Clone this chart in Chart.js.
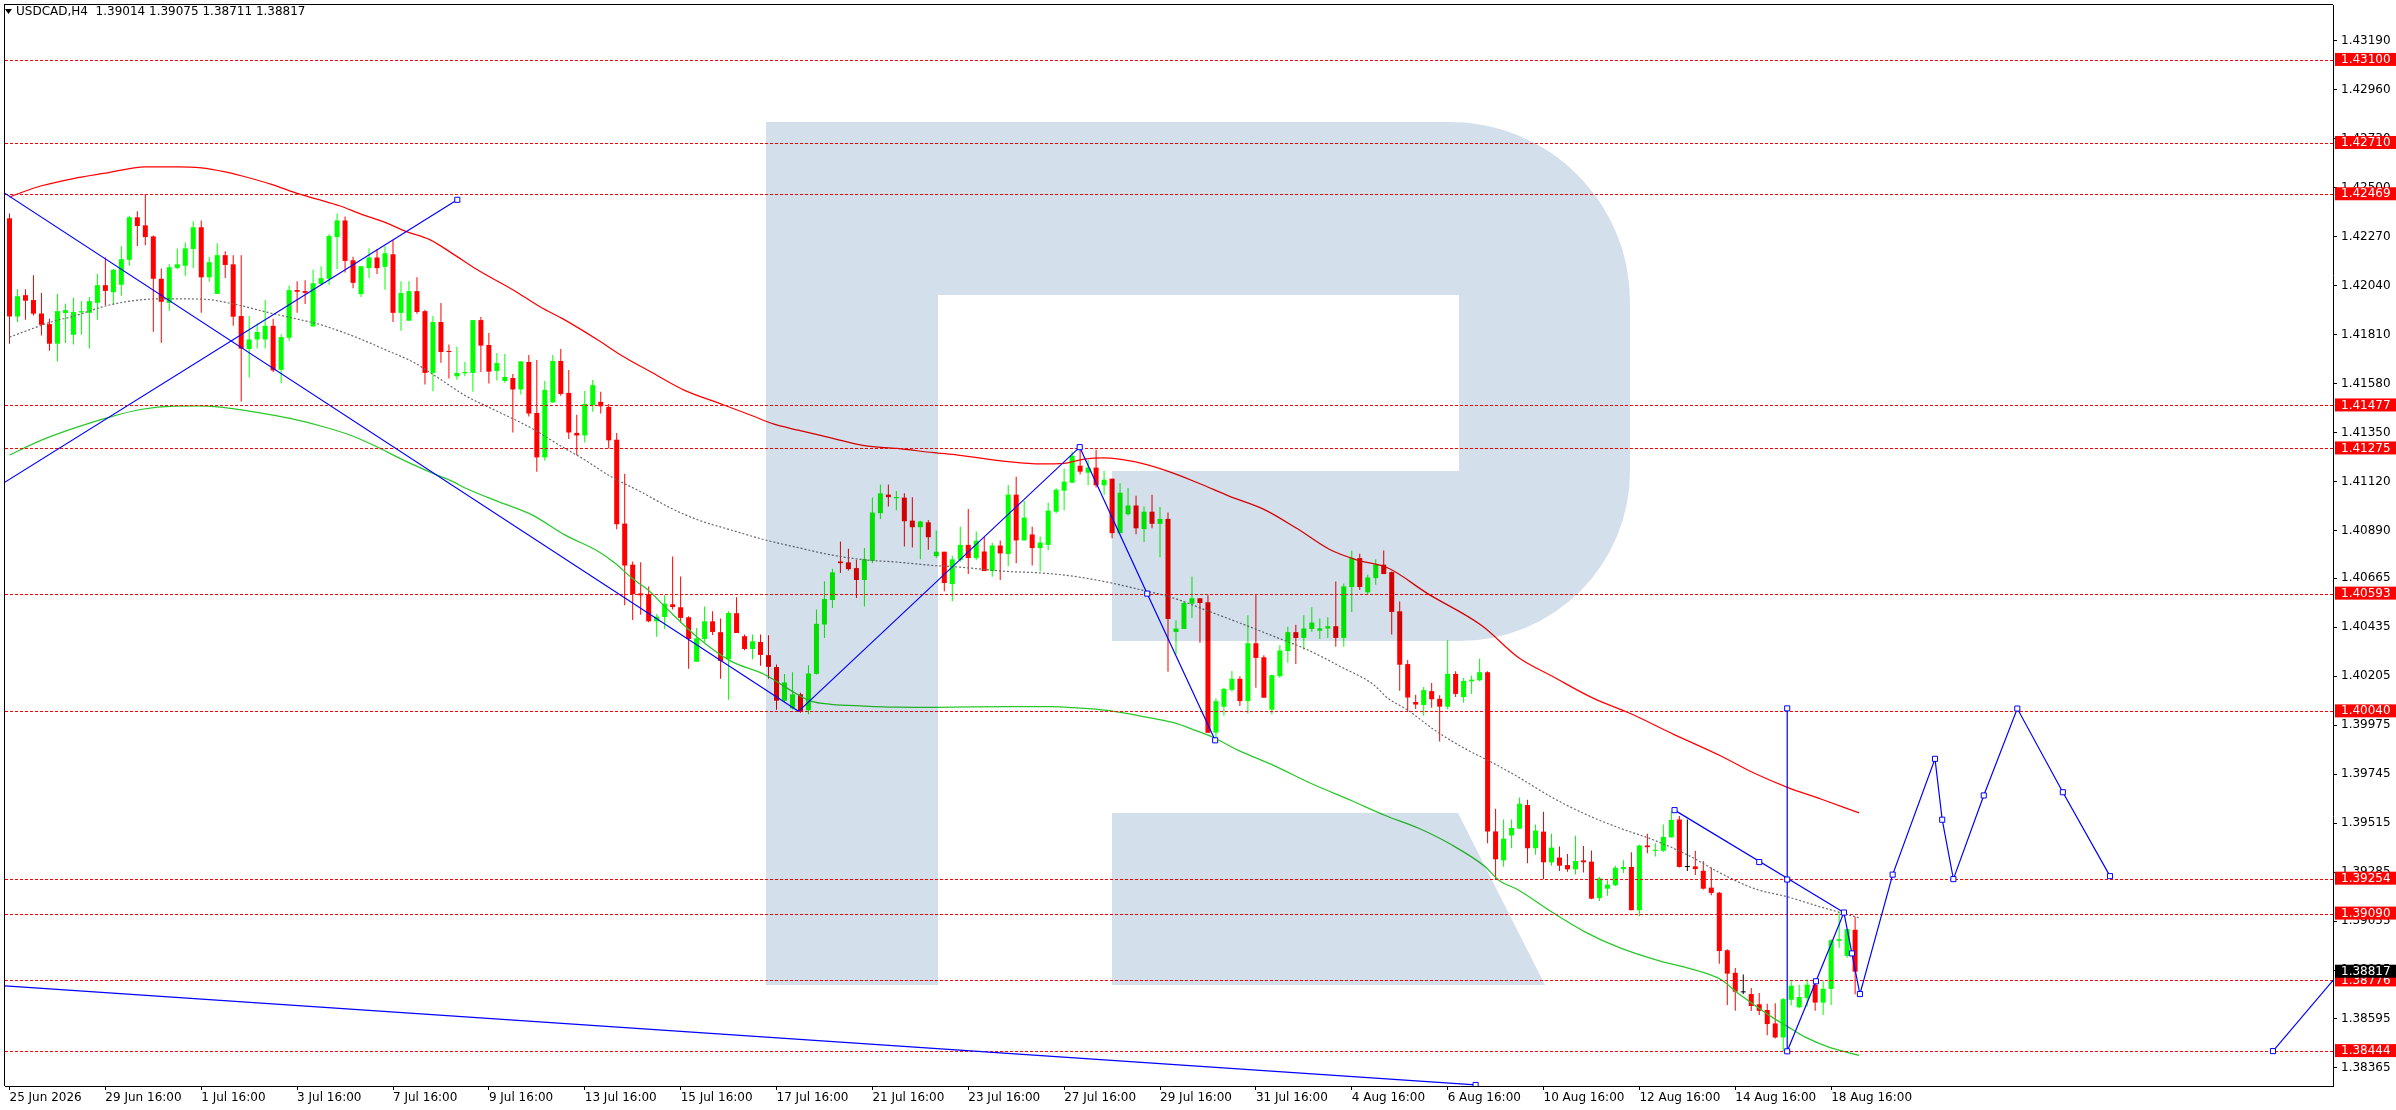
<!DOCTYPE html>
<html><head><meta charset="utf-8">
<script src="https://cdn.jsdelivr.net/npm/chart.js@4.4.1/dist/chart.umd.min.js"></script>
<style>html,body{margin:0;padding:0;background:#fff;overflow:hidden}canvas{display:block}</style>
</head><body>
<canvas id="c" width="2396" height="1110" style="width:2396px;height:1110px"></canvas>
<script>
const symbolTitle = 'USDCAD,H4  1.39014 1.39075 1.38711 1.38817';

const open = [
1.42356,1.41895,1.41995,1.41972,1.41909,1.41859,1.41767,1.41911,1.41809,1.41914,
1.41912,1.41959,1.42042,1.42009,1.42044,1.42161,1.42361,1.42323,1.42271,1.42072,
1.41959,1.42123,1.42133,1.42212,1.42314,1.42079,1.42001,1.42183,1.42140,1.41897,
1.41742,1.41787,1.41787,1.41851,1.41644,1.41795,1.42019,1.42014,1.41848,1.42048,
1.42072,1.42268,1.42346,1.42159,1.42000,1.42122,1.42172,1.42128,1.42187,1.41912,
1.41875,1.42014,1.41920,1.41630,1.41869,1.41733,1.41614,1.41628,1.41630,1.41878,
1.41761,1.41639,1.41592,1.41606,1.41552,1.41681,1.41442,1.41233,1.41491,1.41686,
1.41536,1.41348,1.41336,1.41478,1.41494,1.41470,1.41316,1.40922,1.40729,1.40594,
1.40591,1.40463,1.40483,1.40543,1.40529,1.40482,1.40273,1.40380,1.40463,1.40412,
1.40285,1.40501,1.40393,1.40333,1.40366,1.40304,1.40248,1.40090,1.40054,1.40120,
1.40045,1.40216,1.40448,1.40563,1.40744,1.40740,1.40713,1.40657,1.40747,1.40971,
1.41058,1.41041,1.41044,1.40936,1.40905,1.40928,1.40769,1.40790,1.40638,1.40752,
1.40822,1.40760,1.40791,1.40699,1.40819,1.40779,1.41058,1.40843,1.40871,1.40807,
1.40822,1.40978,1.41077,1.41114,1.41194,1.41161,1.41185,1.41102,1.41133,1.40877,
1.40966,1.41007,1.40896,1.40978,1.40921,1.40944,1.40413,1.40427,1.40546,1.40571,
1.40552,1.39940,1.40062,1.40141,1.40193,1.40088,1.40360,1.40294,1.40048,1.40205,
1.40323,1.40412,1.40385,1.40427,1.40419,1.40429,1.40440,1.40385,1.40624,1.40760,
1.40599,1.40666,1.40729,1.40694,1.40510,1.40262,1.40084,1.40070,1.40135,1.40099,
1.40062,1.40216,1.40107,1.40181,1.40186,1.40224,1.39476,1.39340,1.39457,1.39489,
1.39600,1.39397,1.39475,1.39331,1.39353,1.39318,1.39298,1.39340,1.39334,1.39163,
1.39207,1.39223,1.39299,1.39309,1.39106,1.39410,1.39385,1.39385,1.39448,1.39532,
1.39309,1.39312,1.39291,1.39212,1.39188,1.38918,1.38812,1.38720,1.38712,1.38664,
1.38637,1.38574,1.38508,1.38685,1.38650,1.38693,1.38756,1.38672,1.38736,1.38962,
1.38891,1.39014];
const high = [
1.42379,1.42023,1.42023,1.42089,1.42005,1.41884,1.42000,1.41955,1.41983,1.41967,
1.41986,1.42095,1.42172,1.42118,1.42225,1.42368,1.42389,1.42470,1.42275,1.42120,
1.42140,1.42214,1.42243,1.42342,1.42346,1.42175,1.42239,1.42201,1.42183,1.42183,
1.41897,1.41862,1.41972,1.41884,1.41812,1.42040,1.42061,1.42065,1.42115,1.42131,
1.42282,1.42379,1.42365,1.42176,1.42131,1.42215,1.42212,1.42225,1.42254,1.42061,
1.42061,1.42079,1.41926,1.41897,1.41958,1.41763,1.41753,1.41681,1.41878,1.41892,
1.41817,1.41723,1.41719,1.41625,1.41684,1.41714,1.41690,1.41592,1.41714,1.41742,
1.41644,1.41433,1.41545,1.41597,1.41541,1.41484,1.41348,1.41156,1.40744,1.40740,
1.40627,1.40497,1.40585,1.40768,1.40674,1.40487,1.40432,1.40533,1.40510,1.40476,
1.40510,1.40576,1.40401,1.40401,1.40401,1.40398,1.40260,1.40216,1.40224,1.40127,
1.40257,1.40518,1.40651,1.40710,1.40838,1.40804,1.40752,1.40807,1.41044,1.41106,
1.41106,1.41075,1.41064,1.41046,1.40935,1.40939,1.40889,1.40790,1.40771,1.40907,
1.40991,1.40885,1.40860,1.40832,1.40843,1.41103,1.41142,1.41028,1.40907,1.40861,
1.41021,1.41088,1.41181,1.41259,1.41281,1.41220,1.41269,1.41170,1.41133,1.41111,
1.41089,1.41053,1.41002,1.41058,1.41000,1.40974,1.40468,1.40557,1.40674,1.40572,
1.40585,1.40102,1.40151,1.40229,1.40205,1.40491,1.40585,1.40304,1.40213,1.40351,
1.40437,1.40447,1.40491,1.40529,1.40476,1.40482,1.40650,1.40641,1.40794,1.40780,
1.40682,1.40754,1.40796,1.40697,1.40556,1.40281,1.40118,1.40154,1.40173,1.40116,
1.40374,1.40228,1.40197,1.40208,1.40287,1.40228,1.39583,1.39532,1.39532,1.39635,
1.39625,1.39508,1.39568,1.39465,1.39405,1.39370,1.39456,1.39408,1.39386,1.39263,
1.39247,1.39315,1.39340,1.39378,1.39413,1.39465,1.39421,1.39508,1.39571,1.39548,
1.39532,1.39385,1.39337,1.39306,1.39192,1.38922,1.38834,1.38804,1.38740,1.38717,
1.38666,1.38669,1.38693,1.38772,1.38756,1.38780,1.38780,1.38772,1.38970,1.39096,
1.39017,1.39075];
const low = [
1.41767,1.41869,1.41880,1.41900,1.41806,1.41734,1.41683,1.41770,1.41763,1.41809,
1.41744,1.41880,1.41947,1.41951,1.41992,1.42133,1.42226,1.42229,1.41823,1.41772,
1.41922,1.42117,1.42086,1.42123,1.41912,1.42058,1.42001,1.42076,1.41851,1.41495,
1.41608,1.41744,1.41744,1.41634,1.41583,1.41781,1.41912,1.41954,1.41848,1.42044,
1.42044,1.42118,1.42101,1.42028,1.41987,1.42076,1.42094,1.42020,1.41869,1.41828,
1.41875,1.41908,1.41575,1.41544,1.41678,1.41603,1.41598,1.41614,1.41541,1.41634,
1.41580,1.41594,1.41584,1.41350,1.41528,1.41425,1.41166,1.41217,1.41491,1.41523,
1.41319,1.41244,1.41303,1.41447,1.41439,1.41275,1.40896,1.40538,1.40469,1.40494,
1.40459,1.40390,1.40427,1.40518,1.40456,1.40240,1.40273,1.40366,1.40399,1.40193,
1.40095,1.40408,1.40327,1.40285,1.40254,1.40193,1.40048,1.40081,1.40049,1.40034,
1.40026,1.40213,1.40385,1.40526,1.40690,1.40702,1.40572,1.40532,1.40736,1.40943,
1.41002,1.40985,1.40814,1.40810,1.40755,1.40799,1.40760,1.40604,1.40557,1.40743,
1.40685,1.40750,1.40699,1.40672,1.40657,1.40722,1.40736,1.40843,1.40725,1.40697,
1.40797,1.40971,1.40983,1.41114,1.41153,1.41102,1.41092,1.41056,1.40853,1.40877,
1.40960,1.40872,1.40835,1.40900,1.40764,1.40226,1.40307,1.40427,1.40479,1.40362,
1.39940,1.39917,1.40021,1.40132,1.40065,1.40031,1.40151,1.40104,1.40026,1.40198,
1.40268,1.40263,1.40329,1.40413,1.40380,1.40385,1.40343,1.40343,1.40507,1.40610,
1.40588,1.40635,1.40685,1.40401,1.40137,1.40042,1.40051,1.40020,1.40057,1.39898,
1.40050,1.40108,1.40081,1.40122,1.40181,1.39421,1.39253,1.39310,1.39397,1.39489,
1.39326,1.39366,1.39253,1.39315,1.39290,1.39286,1.39274,1.39283,1.39157,1.39149,
1.39174,1.39220,1.39279,1.39106,1.39078,1.39374,1.39358,1.39381,1.39448,1.39306,
1.39290,1.39271,1.39203,1.39176,1.38854,1.38661,1.38634,1.38712,1.38633,1.38614,
1.38519,1.38503,1.38444,1.38658,1.38645,1.38653,1.38633,1.38614,1.38661,1.38930,
1.38883,1.38711];
const close = [
1.41895,1.41990,1.41969,1.41908,1.41856,1.41767,1.41920,1.41925,1.41916,1.41920,
1.41967,1.42042,1.42015,1.42114,1.42164,1.42361,1.42320,1.42268,1.42072,1.41964,
1.42126,1.42140,1.42215,1.42314,1.42079,1.42150,1.42183,1.42137,1.41894,1.41744,
1.41787,1.41822,1.41851,1.41642,1.41798,1.42019,1.42011,1.42006,1.42051,1.42075,
1.42273,1.42346,1.42156,1.42053,1.42131,1.42172,1.42122,1.42192,1.41912,1.42005,
1.42014,1.41916,1.41630,1.41869,1.41728,1.41728,1.41630,1.41634,1.41878,1.41758,
1.41636,1.41676,1.41611,1.41552,1.41684,1.41439,1.41233,1.41550,1.41686,1.41531,
1.41350,1.41336,1.41484,1.41572,1.41473,1.41313,1.40919,1.40725,1.40591,1.40585,
1.40463,1.40485,1.40546,1.40530,1.40479,1.40380,1.40383,1.40463,1.40413,1.40277,
1.40502,1.40408,1.40333,1.40369,1.40305,1.40249,1.40090,1.40176,1.40120,1.40038,
1.40218,1.40451,1.40568,1.40693,1.40736,1.40708,1.40657,1.40755,1.40974,1.41064,
1.41046,1.41047,1.40933,1.40905,1.40932,1.40858,1.40790,1.40643,1.40754,1.40822,
1.40760,1.40841,1.40699,1.40819,1.40782,1.41058,1.40843,1.40950,1.40807,1.40833,
1.40983,1.41081,1.41119,1.41241,1.41166,1.41185,1.41102,1.41128,1.40877,1.41067,
1.41007,1.40900,1.40978,1.40921,1.40944,1.40474,1.40429,1.40549,1.40571,1.40549,
1.39940,1.40088,1.40146,1.40193,1.40088,1.40360,1.40291,1.40104,1.40210,1.40326,
1.40412,1.40385,1.40429,1.40457,1.40430,1.40440,1.40385,1.40627,1.40760,1.40624,
1.40669,1.40729,1.40685,1.40507,1.40259,1.40105,1.40072,1.40140,1.40097,1.40062,
1.40216,1.40122,1.40183,1.40189,1.40224,1.39476,1.39345,1.39442,1.39492,1.39606,
1.39397,1.39480,1.39331,1.39400,1.39315,1.39298,1.39337,1.39331,1.39160,1.39255,
1.39226,1.39305,1.39309,1.39106,1.39410,1.39402,1.39389,1.39450,1.39530,1.39309,
1.39309,1.39299,1.39207,1.39187,1.38914,1.38808,1.38723,1.38720,1.38656,1.38633,
1.38571,1.38508,1.38688,1.38751,1.38698,1.38756,1.38672,1.38737,1.38965,1.38970,
1.39017,1.38817];

// moving averages: [bar index, price]
const maRed = [[0,1.42457],[4,1.42509],[8,1.42543],[12,1.42568],[17,1.42598],[21,1.42598],[24,1.42593],[27,1.42574],[29,1.42556],[33,1.42513],[36,1.42473],[38.5,1.42446],[41.3,1.42415],[44,1.42376],[47,1.42337],[49.6,1.42295],[52.6,1.42256],[55.5,1.42189],[58.4,1.42118],[63.5,1.42009],[66.6,1.41936],[69.1,1.41887],[73.7,1.41783],[76.6,1.41712],[80.3,1.41634],[84.5,1.41548],[88.7,1.41489],[92.8,1.41431],[95.7,1.41389],[98.7,1.41361],[102.8,1.41325],[107,1.41288],[111.1,1.41275],[115.7,1.41255],[118.7,1.41244],[125,1.41213],[129.1,1.41202],[132,1.41205],[134.5,1.41225],[137,1.41231],[140.8,1.41213],[144.5,1.41174],[148.7,1.41114],[152.8,1.41049],[157,1.40989],[161.1,1.40900],[165.3,1.40799],[168.6,1.40752],[172.6,1.40712],[177.5,1.40593],[184.3,1.40442],[188.9,1.40292],[193.1,1.40205],[198.2,1.40102],[202.8,1.40031],[208.3,1.39932],[214.2,1.39830],[218.4,1.39749],[222.6,1.39682],[226.8,1.39627],[231.5,1.39563]];
const maGreen = [[0,1.41244],[4,1.41314],[8,1.41369],[12.3,1.41420],[16.4,1.41458],[20.6,1.41474],[23.5,1.41475],[26.4,1.41469],[31,1.41444],[35.1,1.41416],[39.3,1.41377],[42.6,1.41338],[45.5,1.41291],[49.7,1.41213],[53,1.41158],[55.5,1.41119],[57.1,1.41088],[61.2,1.41025],[65.4,1.40963],[69.5,1.40869],[73.7,1.40791],[75.8,1.40736],[77.9,1.40666],[79.9,1.40611],[82,1.40533],[86.2,1.40385],[90.3,1.40276],[94.5,1.40213],[98.6,1.40120],[100.3,1.40088],[102.8,1.40073],[107,1.40065],[111.1,1.40060],[115.7,1.40059],[125.4,1.40062],[130.4,1.40062],[133.3,1.40057],[137.4,1.40045],[141.6,1.40018],[145.7,1.39987],[148.6,1.39948],[150.7,1.39917],[153.8,1.39857],[158,1.39790],[163,1.39700],[168,1.39620],[172.1,1.39552],[176.3,1.39492],[180.5,1.39413],[184.7,1.39310],[186.4,1.39247],[188.9,1.39200],[193.1,1.39096],[197.3,1.39002],[201.5,1.38930],[206.6,1.38867],[210,1.38835],[214.2,1.38780],[216.3,1.38717],[218.4,1.38661],[220.5,1.38606],[222.6,1.38558],[224.7,1.38511],[227.7,1.38463],[231.5,1.38424]];
const maGray = [[0,1.41798],[2.3,1.41830],[5.2,1.41869],[8.1,1.41897],[12.3,1.41947],[16.4,1.41973],[19.3,1.41978],[24.3,1.41976],[28,1.41954],[32.2,1.41915],[35.5,1.41887],[38.8,1.41858],[41.4,1.41825],[43.8,1.41791],[47.2,1.41736],[50.5,1.41681],[53.8,1.41603],[57.1,1.41522],[61.2,1.41447],[65.4,1.41369],[69.5,1.41275],[71.5,1.41233],[75.3,1.41142],[79,1.41072],[82.8,1.40994],[86.2,1.40939],[90.3,1.40892],[94.5,1.40846],[98.6,1.40810],[102.8,1.40775],[107,1.40752],[111.1,1.40741],[115.7,1.40725],[118.7,1.40718],[125,1.40697],[129.1,1.40690],[133.3,1.40674],[137.4,1.40647],[141.6,1.40611],[145.7,1.40572],[149.9,1.40513],[154,1.40455],[158.2,1.40393],[162.4,1.40330],[166.5,1.40252],[170.7,1.40166],[172.5,1.40102],[175,1.40046],[178.4,1.39951],[182.6,1.39856],[185.1,1.39809],[188.9,1.39730],[193.1,1.39635],[197.3,1.39556],[201.5,1.39492],[205.7,1.39437],[210,1.39366],[214.2,1.39279],[218.4,1.39207],[222.6,1.39168],[226.8,1.39120],[231.5,1.39070]];

// drawn objects: [bar index, price]
const blueFanDown = [[-0.6,1.42474],[98.75,1.40040]];
const blueFanUp = [[-0.6,1.41116],[56.05,1.42443]];
const blueZigzag = [[98.75,1.40040],[133.95,1.41281],[142.4,1.40593],[150.9,1.39904]];
const blueChannel = [[208.4,1.39576],[229.6,1.39095]];
const blueVertical = [[222.5,1.40054],[222.5,1.38443]];
const blueForecast = [[222.5,1.38443],[226.1,1.38772],[229.6,1.39095],[230.6,1.38903],[231.6,1.38712],[235.7,1.39273],[241.0,1.39817],[241.9,1.39531],[243.3,1.39252],[247.1,1.39645],[251.3,1.40053],[257.0,1.39660],[262.9,1.39266]];
const blueLongBottom = [[-0.6,1.38751],[183.5,1.38285]];
const blueRightBottom = [[283.3,1.38444],[292,1.38829]];
const blueMarkers = [[56.05,1.42443],[133.95,1.41281],[142.4,1.40593],[150.9,1.39904],[208.4,1.39576],[219.0,1.39332],[222.5,1.39250],[229.6,1.39095],[222.5,1.40054],[222.5,1.38443],[226.1,1.38772],[230.6,1.38903],[231.6,1.38712],[235.7,1.39273],[241.0,1.39817],[241.9,1.39531],[243.3,1.39252],[247.1,1.39645],[251.3,1.40053],[257.0,1.39660],[262.9,1.39266],[183.5,1.38285],[283.3,1.38444]];

const levels = [1.43100,1.42710,1.42469,1.41477,1.41275,1.40593,1.40040,1.39254,1.39090,1.38776,1.38444];
const currentPrice = 1.38817;
const yTicks = [1.43190,1.42960,1.42730,1.42500,1.42270,1.42040,1.41810,1.41580,1.41350,1.41120,1.40890,1.40665,1.40435,1.40205,1.39975,1.39745,1.39515,1.39285,1.39055,1.38825,1.38595,1.38365];
const xTickIdx = [0,12,24,36,48,60,72,84,96,108,120,132,144,156,168,180,192,204,216,228];
const xTickLabels = ['25 Jun 2026','29 Jun 16:00','1 Jul 16:00','3 Jul 16:00','7 Jul 16:00','9 Jul 16:00','13 Jul 16:00','15 Jul 16:00','17 Jul 16:00','21 Jul 16:00','23 Jul 16:00','27 Jul 16:00','29 Jul 16:00','31 Jul 16:00','4 Aug 16:00','6 Aug 16:00','10 Aug 16:00','12 Aug 16:00','14 Aug 16:00','18 Aug 16:00'];

// 8 px per bar, bar centres on half pixels
const X_MIN = -0.5625, X_MAX = X_MIN + 2331 / 8, Y_MIN = 1.382801, Y_MAX = 1.433581;

Chart.defaults.font.family = "'DejaVu Sans', sans-serif";
Chart.defaults.font.size = 12;

const pts = a => a.map(([x, y]) => ({x, y}));
const idx = open.map((_, i) => i);
const candleColor = idx.map(i => close[i] > open[i] ? '#00ff00' : (close[i] < open[i] ? '#ff0000' : '#000000'));

const datasets = [];
datasets.push({type:'bar', data: idx.map(i => ({x:i, y:[low[i], high[i]]})), backgroundColor: candleColor, borderWidth:0, barThickness:1, inflateAmount:0, grouped:false, order:11});
datasets.push({type:'bar', data: idx.map(i => ({x:i, y:[Math.min(open[i], close[i]), Math.max(open[i], close[i])]})), backgroundColor: candleColor, borderWidth:0, barThickness:5, inflateAmount:0, minBarLength:1, grouped:false, order:10});
const maLine = (a, color, width, dash) => ({type:'line', data: pts(a), borderColor: color, borderWidth: width, borderDash: dash || [], pointRadius:0, cubicInterpolationMode:'monotone', fill:false, order:5});
datasets.push(maLine(maRed, '#ff0000', 1.25));
datasets.push(maLine(maGreen, '#28c828', 1.25));
datasets.push(maLine(maGray, '#6a6a6a', 1.2, [2,2]));
[blueFanDown, blueFanUp, blueZigzag, blueChannel, blueVertical, blueForecast, blueLongBottom, blueRightBottom].forEach(a =>
  datasets.push({type:'line', data: pts(a), borderColor:'#0000ff', borderWidth:1.2, pointRadius:0, fill:false, tension:0, order:1, wmLayer:true}));
datasets.push({type:'line', data: pts(blueMarkers), showLine:false, pointStyle:'rect', pointRadius:3.6, pointBorderWidth:1, pointBorderColor:'#0000ff', pointBackgroundColor:'#ffffff', order:0, wmLayer:true});

function drawWatermark(chart) {
  const ctx = chart.ctx, a = chart.chartArea;
  ctx.save();
  ctx.beginPath(); ctx.rect(a.left, a.top, a.right - a.left, a.bottom - a.top); ctx.clip();
  ctx.globalCompositeOperation = 'multiply';
  ctx.fillStyle = 'rgb(211,223,235)';
  ctx.beginPath();
  ctx.rect(766, 122, 172, 863);
  ctx.fill();
  ctx.beginPath();
  ctx.moveTo(938, 122);
  ctx.lineTo(1450, 122);
  ctx.arcTo(1630, 122, 1630, 302, 180);
  ctx.lineTo(1630, 471);
  ctx.arcTo(1630, 641, 1460, 641, 170);
  ctx.lineTo(1112, 641);
  ctx.lineTo(1112, 471);
  ctx.lineTo(1459, 471);
  ctx.lineTo(1459, 295);
  ctx.lineTo(938, 295);
  ctx.closePath();
  ctx.fill();
  ctx.beginPath();
  ctx.moveTo(1112, 813);
  ctx.lineTo(1458, 813);
  ctx.lineTo(1545, 985);
  ctx.lineTo(1112, 985);
  ctx.closePath();
  ctx.fill();
  ctx.restore();
}

// horizontal price levels, drawn crisply through the y scale
function drawLevels(chart) {
  const ctx = chart.ctx, a = chart.chartArea, ys = chart.scales.y;
  ctx.save();
  ctx.beginPath(); ctx.rect(a.left, a.top, a.right - a.left, a.bottom - a.top); ctx.clip();
  ctx.strokeStyle = '#ff0000'; ctx.lineWidth = 1; ctx.setLineDash([3, 2]);
  levels.forEach(v => {
    const y = Math.round(ys.getPixelForValue(v)) + 0.5;
    ctx.beginPath(); ctx.moveTo(a.left, y); ctx.lineTo(a.right, y); ctx.stroke();
  });
  ctx.restore();
}

const mtPlugin = {
  id: 'mt',
  beforeDraw(chart) {
    const ctx = chart.ctx;
    ctx.save(); ctx.fillStyle = '#ffffff'; ctx.fillRect(0, 0, chart.width, chart.height); ctx.restore();
  },
  beforeDatasetsDraw(chart) { chart.$wmDone = false; },
  beforeDatasetDraw(chart, args) {
    const ds = chart.data.datasets[args.index];
    if (ds.wmLayer && !chart.$wmDone) { drawWatermark(chart); drawLevels(chart); chart.$wmDone = true; }
  },
  afterDraw(chart) {
    const ctx = chart.ctx, a = chart.chartArea;
    ctx.save();
    ctx.fillStyle = '#000';
    ctx.fillRect(Math.round(a.left) - 1, Math.round(a.top) - 1, 1, Math.round(a.bottom - a.top) + 1);
    ctx.fillRect(Math.round(a.left) - 1, Math.round(a.top) - 1, Math.round(a.right - a.left) + 1, 1);
    ctx.beginPath(); ctx.moveTo(5, 9); ctx.lineTo(12, 9); ctx.lineTo(8.5, 14); ctx.closePath(); ctx.fill();
    ctx.font = "12px 'DejaVu Sans', sans-serif";
    ctx.textBaseline = 'middle';
    ctx.fillText(symbolTitle, 16, 12);
    ctx.restore();
  }
};

const isLevel = ctx => ctx.tick && levels.includes(ctx.tick.value);
const isCurrent = ctx => ctx.tick && ctx.tick.value === currentPrice;

new Chart(document.getElementById('c'), {
  type: 'bar',
  data: { datasets },
  plugins: [mtPlugin],
  options: {
    responsive: false, animation: false, devicePixelRatio: 1, events: [],
    layout: { padding: { left: 2, top: 2, right: 0, bottom: 0 } },
    plugins: { legend: { display: false }, tooltip: { enabled: false } },
    scales: {
      x: {
        type: 'linear', min: X_MIN, max: X_MAX, offset: false,
        afterBuildTicks: s => { s.ticks = xTickIdx.map(v => ({ value: v })); },
        afterFit: s => { s.height = 24; s.paddingLeft = 0; s.paddingRight = 0; },
        ticks: { autoSkip: false, maxRotation: 0, minRotation: 0, align: 'start', padding: 1, color: '#000',
          font: { size: 12 }, callback: (v, i) => xTickLabels[i] },
        grid: { drawOnChartArea: false, offset: false, tickLength: 4, tickColor: '#000', color: '#000' },
        border: { display: true, color: '#000', width: 1 }
      },
      y: {
        position: 'right', min: Y_MIN, max: Y_MAX, beginAtZero: false,
        afterBuildTicks: s => { s.ticks = [...yTicks, ...levels, currentPrice].map(v => ({ value: v })); },
        afterFit: s => { s.width = 63; s.paddingTop = 0; s.paddingBottom = 0; },
        ticks: {
          autoSkip: false, padding: 4, font: { size: 12, lineHeight: 1 },
          callback: v => Number(v).toFixed(5),
          color: ctx => (isLevel(ctx) || isCurrent(ctx)) ? '#ffffff' : '#000000',
          showLabelBackdrop: ctx => isLevel(ctx) || isCurrent(ctx),
          backdropColor: ctx => isCurrent(ctx) ? '#000000' : '#ff0000',
          backdropPadding: { left: 6, right: 6, top: 1, bottom: 0 }
        },
        grid: { drawOnChartArea: false, offset: false, tickLength: 4,
          tickColor: ctx => (isLevel(ctx) || isCurrent(ctx)) ? 'rgba(0,0,0,0)' : '#000000', color: '#000' },
        border: { display: true, color: '#000', width: 1 }
      }
    }
  }
});
</script>
</body></html>
